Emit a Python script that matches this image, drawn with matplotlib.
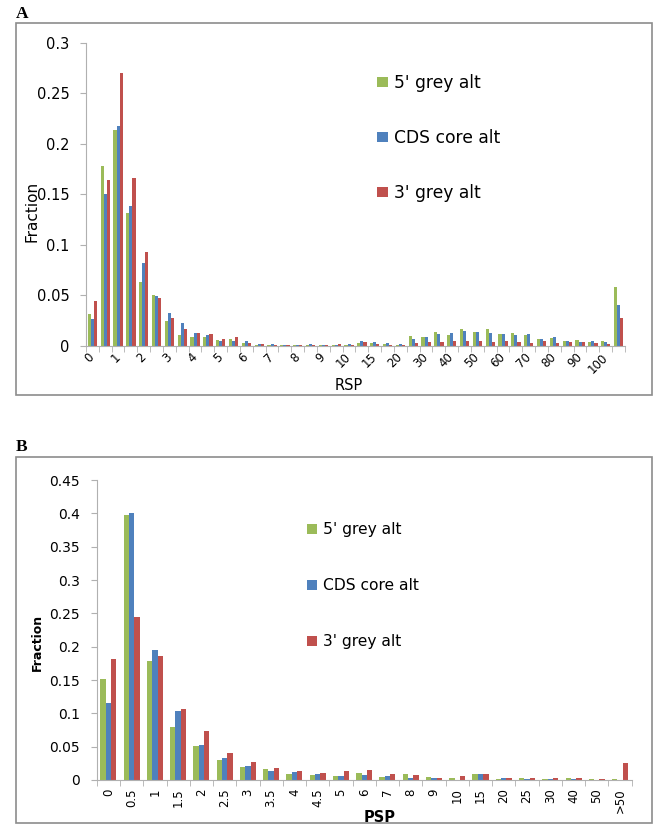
"""
Fraction of alternative events per RSP / PSP bin, two panels (A, B)
"""
import matplotlib.pyplot as plt
import matplotlib as mtpl
from matplotlib.patches import Rectangle
import numpy as np

series = ["5' grey alt", 'CDS core alt', "3' grey alt"]
palette = ['#9BBB59', '#4F81BD', '#C0504D']

mtpl.rcParams['font.family'] = 'DejaVu Sans'
mtpl.rcParams['figure.dpi'] = 100

# panel A: 42 categories, label shown on every other one
rsp_labels = ['0', '1', '2', '3', '4', '5', '6', '7', '8', '9', '10',
              '15', '20', '30', '40', '50', '60', '70', '80', '90', '100']
rsp_green = [0.031, 0.178, 0.214, 0.131, 0.063, 0.050, 0.024, 0.011, 0.009, 0.009, 0.006, 0.007,
             0.003, 0.001, 0.001, 0.001, 0.001, 0.001, 0.001, 0.0003, 0.0003,
             0.003, 0.003, 0.002, 0.0003,
             0.010, 0.009, 0.014, 0.011, 0.017, 0.014, 0.017, 0.012, 0.013, 0.011, 0.007, 0.008,
             0.005, 0.006, 0.004, 0.005, 0.058]
rsp_blue = [0.026, 0.150, 0.218, 0.138, 0.082, 0.049, 0.032, 0.022, 0.013, 0.011, 0.005, 0.005,
            0.005, 0.002, 0.002, 0.001, 0.001, 0.0013, 0.001, 0.0007, 0.002,
            0.005, 0.004, 0.003, 0.002,
            0.007, 0.009, 0.012, 0.013, 0.015, 0.014, 0.013, 0.012, 0.011, 0.012, 0.007, 0.009,
            0.005, 0.004, 0.005, 0.004, 0.040]
rsp_red = [0.044, 0.164, 0.270, 0.166, 0.093, 0.047, 0.027, 0.017, 0.013, 0.012, 0.007, 0.009,
           0.003, 0.002, 0.001, 0.001, 0.001, 0.001, 0.001, 0.002, 0.0003,
           0.004, 0.002, 0.001, 0.001,
           0.003, 0.004, 0.004, 0.005, 0.005, 0.005, 0.004, 0.005, 0.004, 0.003, 0.005, 0.003,
           0.004, 0.004, 0.003, 0.002, 0.027]

# panel B
psp_labels = ['0', '0.5', '1', '1.5', '2', '2.5', '3', '3.5', '4', '4.5', '5', '6', '7', '8',
              '9', '10', '15', '20', '25', '30', '40', '50', '>50']
psp_green = [0.151, 0.398, 0.179, 0.080, 0.051, 0.030, 0.020, 0.016, 0.0095, 0.007, 0.0065, 0.010,
             0.005, 0.0095, 0.005, 0.003, 0.0085, 0.001, 0.0025, 0.0015, 0.0025, 0.001, 0.001]
psp_blue = [0.116, 0.400, 0.195, 0.103, 0.052, 0.033, 0.021, 0.0135, 0.012, 0.009, 0.0065, 0.008,
            0.0065, 0.0035, 0.003, 0.0005, 0.0085, 0.0035, 0.001, 0.0015, 0.001, 0.0005, 0.0005]
psp_red = [0.181, 0.245, 0.186, 0.106, 0.074, 0.040, 0.0275, 0.0185, 0.014, 0.0105, 0.0135, 0.0145,
           0.009, 0.007, 0.0035, 0.0055, 0.0095, 0.0025, 0.003, 0.0025, 0.0025, 0.0015, 0.025]

axis_grey = '#b0b0b0'


def draw_panel(ax, values, width, ymax, ystep):
    x = np.arange(len(values[0]))
    for i, vals in enumerate(values):
        ax.bar(x + (i - 1) * width, vals, width=width, color=palette[i], label=series[i])

    ax.set_xlim(-0.5, len(x) - 0.5)
    ax.set_ylim(0, ymax)
    ax.set_yticks(np.arange(0, ymax + ystep / 2, ystep))
    ax.yaxis.set_major_formatter(mtpl.ticker.FuncFormatter(lambda v, p: ('%.2f' % v).rstrip('0').rstrip('.')))

    # excel style: tick marks between categories
    ax.set_xticks(np.arange(len(x) + 1) - 0.5, minor=True)
    ax.tick_params(axis='x', which='major', length=0)
    ax.tick_params(axis='x', which='minor', length=4, color=axis_grey, direction='out')
    ax.tick_params(axis='y', length=4, color=axis_grey, direction='out')

    for side in ['top', 'right']:
        ax.spines[side].set_visible(False)
    for side in ['left', 'bottom']:
        ax.spines[side].set_color(axis_grey)
    return ax


fig = plt.figure(figsize=(6.58, 8.24), dpi=100)

# frames round the two panels
fig.patches.append(Rectangle((0.0243, 0.5206), 0.9666, 0.4515, transform=fig.transFigure,
                             fill=False, edgecolor='#8c8c8c', lw=1.2))
fig.patches.append(Rectangle((0.0243, 0.0015), 0.9666, 0.4439, transform=fig.transFigure,
                             fill=False, edgecolor='#8c8c8c', lw=1.2))
fig.text(0.0243, 0.973, 'A', family='Liberation Serif', weight='bold', fontsize=12.5, va='bottom')
fig.text(0.0243, 0.448, 'B', family='Liberation Serif', weight='bold', fontsize=12.5, va='bottom')

# panel A
ax1 = fig.add_axes([0.1307, 0.5805, 0.8191, 0.3674])
draw_panel(ax1, [rsp_green, rsp_blue, rsp_red], 0.24, 0.3, 0.05)
ax1.set_xticks(np.arange(0, 2 * len(rsp_labels), 2))
ax1.set_xticklabels(rsp_labels, rotation=45, ha='right', va='center', rotation_mode='anchor', fontsize=8.5)
ax1.tick_params(axis='x', which='major', pad=7)
ax1.tick_params(axis='y', labelsize=10.5, pad=8)
ax1.set_xlabel('RSP', fontsize=10.5)
ax1.xaxis.set_label_coords(0.488, -0.107)
ax1.set_ylabel('Fraction', fontsize=11)
ax1.yaxis.set_label_coords(-0.087, 0.442)
ax1.legend(loc='upper left', bbox_to_anchor=(0.54, 0.898), frameon=False, fontsize=12.3,
           labelspacing=2.18, handlelength=0.65, handleheight=0.55, handletextpad=0.35,
           borderpad=0, borderaxespad=0)

# panel B
ax2 = fig.add_axes([0.147, 0.0534, 0.813, 0.364])
draw_panel(ax2, [psp_green, psp_blue, psp_red], 0.23, 0.45, 0.05)
ax2.set_xticks(np.arange(len(psp_labels)))
ax2.set_xticklabels(psp_labels, rotation=90, ha='right', va='center', rotation_mode='anchor', fontsize=8.5)
ax2.tick_params(axis='x', which='major', pad=6)
ax2.tick_params(axis='y', labelsize=10, pad=8)
ax2.set_xlabel('PSP', fontsize=10.5, weight='bold')
ax2.xaxis.set_label_coords(0.528, -0.10)
ax2.set_ylabel('Fraction', fontsize=9, weight='bold')
ax2.yaxis.set_label_coords(-0.098, 0.457)
ax2.legend(loc='upper left', bbox_to_anchor=(0.393, 0.86), frameon=False, fontsize=11.2,
           labelspacing=2.65, handlelength=0.65, handleheight=0.6, handletextpad=0.35,
           borderpad=0, borderaxespad=0)

plt.savefig('out.png', dpi=100)
